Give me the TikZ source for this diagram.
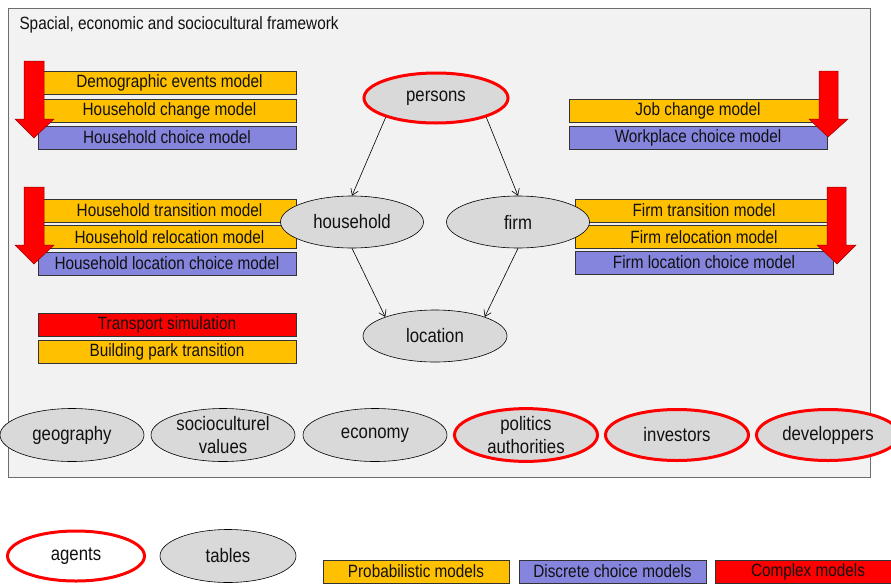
\documentclass[tikz,border=0pt]{standalone}
\usepackage{fontspec}
\setmainfont[FakeStretch=0.86]{Liberation Sans}
\usetikzlibrary{arrows.meta,shapes.geometric}

\definecolor{frameFill}{HTML}{F2F2F2}
\definecolor{frameLine}{HTML}{6E6E6E}
\definecolor{probOrange}{HTML}{FFC000}
\definecolor{choiceBlue}{HTML}{8585DE}
\definecolor{complexRed}{HTML}{FF0000}
\definecolor{entityGray}{HTML}{D9D9D9}
\definecolor{textDark}{HTML}{111111}

\tikzset{
  txt/.style={font=\fontsize{17.8}{20}\selectfont, text=textDark},
  modelbox/.style={txt, rectangle, draw=black!80, line width=0.6pt, inner sep=0pt,
    minimum height=23pt},
  probbox/.style={modelbox, fill=probOrange},
  choicebox/.style={modelbox, fill=choiceBlue},
  complexbox/.style={modelbox, fill=complexRed},
  entity/.style={txt, ellipse, draw=black, line width=0.6pt, fill=entityGray,
    minimum width=144pt, minimum height=53pt, inner sep=0pt, align=center,
    font=\fontsize{19.5}{23}\selectfont},
  agent/.style={entity, draw=complexRed, line width=3pt},
  flow/.style={-{Straight Barb[length=6pt,width=8pt]}, line width=0.6pt, black},
  bigarrow/.style={fill=complexRed, draw=red!60!black, line width=0.5pt},
}

% thick red downward arrow: shaft left/right x, top y, head start y, head left/right x, tip x/y
\newcommand\downarrowshape[8]{%
  \path[bigarrow] (#1,#3) -- (#2,#3) -- (#2,#4) -- (#6,#4) -- (#7,#8)
    -- (#5,#4) -- (#1,#4) -- cycle;}

\begin{document}
\begin{tikzpicture}[x=1pt,y=-1pt]
\clip (0,0) rectangle (891,584);
\fill[white] (0,0) rectangle (891,584);

% framework
\draw[fill=frameFill, draw=frameLine, line width=0.8pt] (8,8) rectangle (870,477);
\node[txt, anchor=west] (title) at (16,25) {Spacial, economic and sociocultural framework};

% left column: household models
\node[probbox, minimum width=253pt] (demo) at (169.5,83) {Demographic events model};
\node[probbox, minimum width=253pt] (hhchange) at (169.5,110.5) {Household change model};
\node[choicebox, minimum width=258pt] (hhchoice) at (167,137.5) {Household choice model};
\downarrowshape{24}{44}{61}{119}{15}{54}{34}{138}

\node[probbox, minimum width=253pt] (hhtrans) at (169.5,210.5) {Household transition model};
\node[probbox, minimum width=253pt] (hhreloc) at (169.5,237) {Household relocation model};
\node[choicebox, minimum width=258pt] (hhloc) at (167,263.5) {Household location choice model};
\downarrowshape{24}{44}{187}{245}{15}{54}{34}{264}

\node[complexbox, minimum width=258pt] (transport) at (167,325) {Transport simulation};
\node[probbox, minimum width=258pt] (building) at (167,351.5) {Building park transition};

% right column: job and firm models
\node[probbox, minimum width=258pt] (job) at (698,110.5) {Job change model};
\node[choicebox, minimum width=258pt] (workplace) at (698,137.5) {Workplace choice model};
\downarrowshape{819}{838}{71}{119}{809}{848}{828}{137}

\node[probbox, minimum width=258pt] (firmtrans) at (704,210.5) {Firm transition model};
\node[probbox, minimum width=258pt] (firmreloc) at (704,237) {Firm relocation model};
\node[choicebox, minimum width=258pt] (firmloc) at (704,262.5) {Firm location choice model};
\downarrowshape{827}{846}{187}{245}{817}{856}{837}{264}

% central entities
\node[agent, minimum width=144pt, minimum height=50pt] (persons) at (436,98) {persons};
\node[entity, minimum width=143pt, minimum height=52pt] (household) at (352,222) {household};
\node[entity, minimum width=143pt, minimum height=52pt] (firm) at (518,222) {firm};
\node[entity, minimum width=144pt, minimum height=52pt] (location) at (435,336) {location};

\draw[flow] (persons.201) -- (household.north);
\draw[flow] (persons.339) -- (firm.north);
\draw[flow] (household.south) -- (location.159);
\draw[flow] (firm.south) -- (location.21);

% context row
\node[entity] (geography) at (72,435) {geography};
\node[entity] (values) at (223,435) {socioculturel\\values};
\node[entity] (economy) at (375,435) {economy};
\node[agent, minimum width=143pt, minimum height=51pt] (politics) at (526,435) {politics\\authorities};
\node[agent, minimum width=143pt, minimum height=51pt] (investors) at (677,435) {investors};
\node[agent, minimum width=143pt, minimum height=51pt] (developpers) at (828,435) {developpers};

% legend
\node[agent, fill=white, minimum width=137pt, minimum height=50pt] (agents) at (76,556) {agents};
\node[entity, minimum width=136pt, minimum height=53pt] (tables) at (228,556) {tables};
\node[probbox, minimum width=186pt] (legprob) at (416,571.5) {Probabilistic models};
\node[choicebox, minimum width=187pt] (legchoice) at (612.5,571.5) {Discrete choice models};
\node[complexbox, minimum width=186pt] (legcomplex) at (808,571.5) {Complex models};
\end{tikzpicture}
\end{document}
